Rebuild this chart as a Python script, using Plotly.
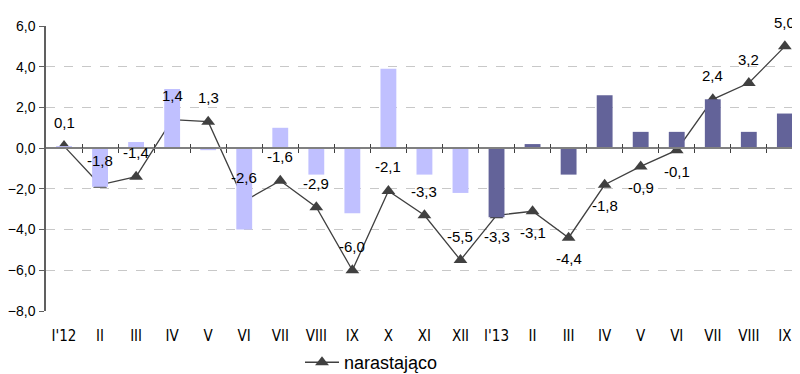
import plotly.graph_objects as go

months = ["I'12", "II", "III", "IV", "V", "VI", "VII", "VIII", "IX", "X", "XI", "XII",
          "I'13", "II", "III", "IV", "V", "VI", "VII", "VIII", "IX"]
bars_2012 = [0.1, -1.9, 0.3, 2.9, -0.1, -4.0, 1.0, -1.3, -3.2, 3.9, -1.3, -2.2]
bars_2013 = [-3.4, 0.2, -1.3, 2.6, 0.8, 0.8, 2.4, 0.8, 1.7]
cumulative = [0.1, -1.8, -1.4, 1.4, 1.3, -2.6, -1.6, -2.9, -6.0, -2.1, -3.3, -5.5,
              -3.3, -3.1, -4.4, -1.8, -0.9, -0.1, 2.4, 3.2, 5.0]
labels_below = {12, 13, 14, 15, 16, 17}  # label placement style

x_all = list(range(len(months)))
x_2012 = x_all[:len(bars_2012)]
x_2013 = x_all[len(bars_2012):]

FONT = "Liberation Sans, Arial, sans-serif"
NARROW = "Liberation Sans Narrow, Arial Narrow, DejaVu Sans Condensed, sans-serif"
xr = [-0.5, 20.42]

fig = go.Figure()
fig.add_trace(go.Bar(x=x_2012, y=bars_2012, width=0.44, marker_color="#c0c0ff",
                     marker_line_width=0, showlegend=False, xaxis="x2", hoverinfo="skip"))
fig.add_trace(go.Bar(x=x_2013, y=bars_2013, width=0.44, marker_color="#636399",
                     marker_line_width=0, showlegend=False, xaxis="x3", hoverinfo="skip"))
fig.add_trace(go.Scatter(x=x_all, y=cumulative, mode="lines+markers", name="narastająco",
                         line=dict(color="#404040", width=1.3),
                         marker=dict(symbol="triangle-up", size=12, color="#404040")))

for i, v in enumerate(cumulative):
    fig.add_annotation(x=i, y=v, text=f"{v:.1f}".replace(".", ","), showarrow=False,
                       yshift=-21 if i in labels_below else 24,
                       font=dict(family=FONT, size=15, color="#000000"))

boundaries = [i + 0.5 for i in range(len(months) - 1)]

fig.update_layout(
    width=800, height=374,
    margin=dict(l=38, r=8, t=18, b=71, autoexpand=False),
    paper_bgcolor="white", plot_bgcolor="white",
    separators=", ",
    barmode="overlay",
    font=dict(family=FONT, size=14, color="#000000"),
    xaxis=dict(range=xr, tickmode="array", tickvals=x_all, ticktext=months,
               showgrid=False, zeroline=False, showline=False, ticks="",
               tickfont=dict(family=NARROW, size=15), ticklabelstandoff=14,
               automargin=False),
    xaxis2=dict(range=xr, overlaying="x", anchor="free", position=8 / 14,
                tickmode="array", tickvals=boundaries, showticklabels=False,
                showgrid=False, zeroline=False, showline=True, linecolor="#808080",
                linewidth=2, ticks="outside", ticklen=4, tickcolor="#404040", tickwidth=1,
                automargin=False),
    xaxis3=dict(range=xr, overlaying="x", anchor="free", position=8 / 14,
                tickmode="array", tickvals=boundaries, showticklabels=False,
                showgrid=False, zeroline=False, showline=False,
                ticks="inside", ticklen=4, tickcolor="#404040", tickwidth=1,
                automargin=False),
    yaxis=dict(range=[-8, 6], tickmode="array", tickvals=[-8, -6, -4, -2, 0, 2, 4, 6],
               tickformat=".1f", showgrid=True, gridcolor="#c8c8c8", griddash="dash",
               gridwidth=1, zeroline=False, showline=True, linecolor="#606060",
               linewidth=1.5, ticks="outside", ticklen=5, tickcolor="#606060",
               tickfont=dict(size=14), ticklabelstandoff=1, automargin=False),
    showlegend=True,
    legend=dict(orientation="h", xref="container", yref="container",
                x=0.365, y=0.052, xanchor="left", yanchor="middle", itemwidth=34,
                font=dict(family=FONT, size=18), bgcolor="rgba(0,0,0,0)"),
)

fig.write_html("out.html")
